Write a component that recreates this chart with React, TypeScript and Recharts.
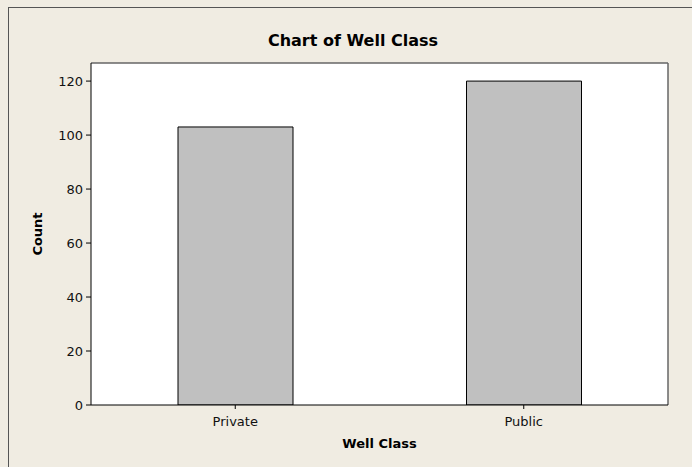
import { Bar, BarChart, XAxis, YAxis, CartesianGrid, Label } from "recharts"

const categories = ["Private", "Public"]
const counts = [103, 120]
const yTicks = [0, 20, 40, 60, 80, 100, 120]

const data = categories.map((name, i) => ({ name, count: counts[i] }))

const font = "'DejaVu Sans', Verdana, sans-serif"

export default function App() {
  return (
    <div
      style={{
        position: "fixed",
        left: 0,
        top: 0,
        width: 692,
        height: 467,
        background: "#f0ece2",
        fontFamily: font,
        overflow: "hidden",
      }}
    >
      <div
        style={{
          position: "absolute",
          left: 8,
          top: 7,
          width: 700,
          height: 480,
          borderLeft: "1px solid #555",
          borderTop: "1px solid #555",
        }}
      />
      <div
        style={{
          position: "absolute",
          left: 203,
          width: 300,
          top: 31,
          textAlign: "center",
          fontWeight: "bold",
          fontSize: 16,
          color: "#000",
        }}
      >
        Chart of Well Class
      </div>
      <div style={{ position: "absolute", left: 0, top: 0 }}>
        <BarChart
          width={692}
          height={467}
          data={data}
          margin={{ top: 63, right: 24, bottom: 17, left: 31 }}
          barCategoryGap={0}
        >
          {/* plot frame: white fill, grey top and right edges */}
          <CartesianGrid
            fill="#ffffff"
            stroke="#666"
            strokeWidth={1.5}
            horizontalCoordinatesGenerator={({ offset }: any) => [offset.top]}
            verticalCoordinatesGenerator={({ offset }: any) => [offset.left + offset.width]}
          />
          <XAxis
            dataKey="name"
            height={45}
            stroke="#000"
            tickSize={4}
            tickMargin={8}
            tick={{ fill: "#111", fontSize: 13, fontFamily: font }}
          >
            <Label
              value="Well Class"
              position="insideBottom"
              offset={2}
              style={{ fill: "#000", fontWeight: "bold", fontSize: 13, fontFamily: font }}
            />
          </XAxis>
          <YAxis
            domain={[0, 126.7]}
            ticks={yTicks}
            width={60}
            stroke="#000"
            tickSize={5}
            tickMargin={3}
            allowDataOverflow
            tick={{ fill: "#111", fontSize: 13, fontFamily: font }}
          >
            <Label
              value="Count"
              angle={-90}
              position="insideLeft"
              offset={6}
              style={{ fill: "#000", fontWeight: "bold", fontSize: 13, fontFamily: font, textAnchor: "middle" }}
            />
          </YAxis>
          <Bar dataKey="count" fill="#c0c0c0" stroke="#000" strokeWidth={1} barSize={115} isAnimationActive={false} />
        </BarChart>
      </div>
    </div>
  )
}
